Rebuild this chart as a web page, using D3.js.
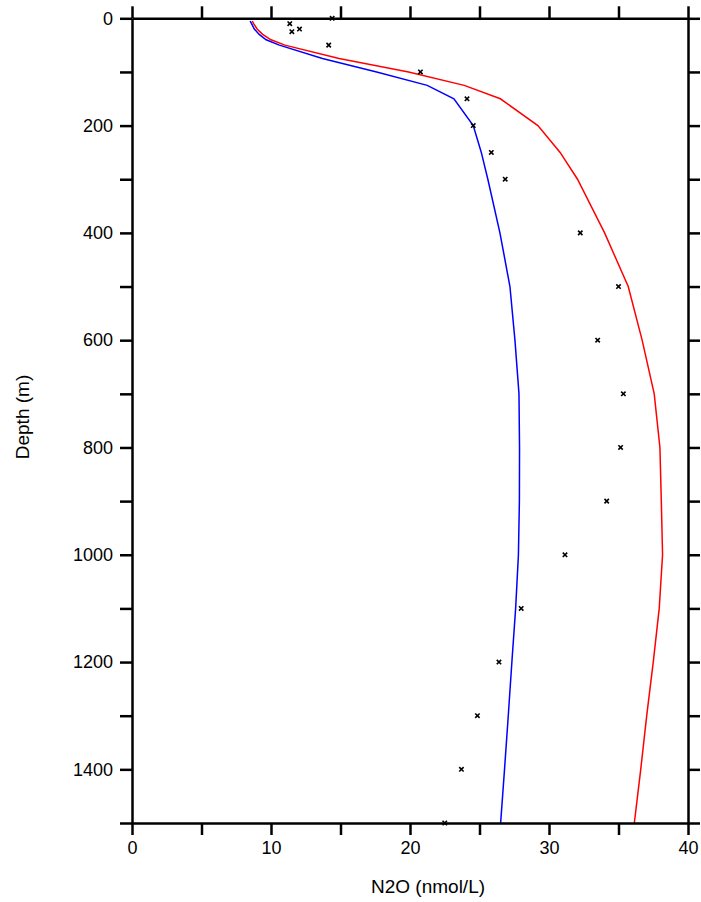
<!DOCTYPE html>
<html>
<head>
<meta charset="utf-8">
<script src="https://cdnjs.cloudflare.com/ajax/libs/d3/7.8.5/d3.min.js"></script>
<style>
  body { margin: 0; background: #fff; }
  svg text { font-family: "Liberation Sans", Arial, sans-serif; fill: #000; }
</style>
</head>
<body>
<svg id="graph" width="701" height="902"></svg>
<script>
// depth levels of the two profiles (m)
var depths = [5, 10, 20, 30, 40, 50, 75, 100, 125, 150, 200, 250, 300, 400, 500,
  600, 700, 800, 900, 1000, 1100, 1200, 1300, 1400, 1500];

// red profile
var redN2O = [8.65, 8.75, 9.0, 9.4, 10.0, 11.0, 14.9, 19.9, 23.9, 26.5, 29.2, 30.8, 32.05, 34.0, 35.7,
  36.7, 37.57, 37.98, 38.08, 38.17, 37.93, 37.5, 37.03, 36.6, 36.14];

// blue profile
var blueN2O = [8.5, 8.6, 8.8, 9.15, 9.65, 10.6, 13.7, 17.6, 21.24, 23.16, 24.55, 25.13, 25.6, 26.47, 27.19,
  27.55, 27.84, 27.88, 27.87, 27.8, 27.6, 27.33, 27.07, 26.8, 26.52];

// observations (x markers)
var obsDepth = [0, 10, 20, 25, 50, 100, 150, 200, 250, 300, 400, 500,
  600, 700, 800, 900, 1000, 1100, 1200, 1300, 1400, 1500];
var obsN2O = [14.4, 11.35, 12.05, 11.5, 14.15, 20.75, 24.1, 24.55, 25.85, 26.85, 32.25, 35.0,
  33.5, 35.35, 35.15, 34.15, 31.15, 28.0, 26.4, 24.85, 23.7, 22.5];

var xTicks = [0, 5, 10, 15, 20, 25, 30, 35, 40];
var xLabels = [0, 10, 20, 30, 40];
var yTicks = [0, 100, 200, 300, 400, 500, 600, 700, 800, 900, 1000, 1100, 1200, 1300, 1400, 1500];
var yLabels = [0, 200, 400, 600, 800, 1000, 1200, 1400];

var svg = d3.select("#graph");

var x = d3.scaleLinear().domain([0, 40]).range([132, 688]),
    y = d3.scaleLinear().domain([0, 1500]).range([18.3, 823]);

var line = d3.line()
    .x(function(d) { return x(d.v); })
    .y(function(d) { return y(d.d); });

///////////////////////////////////////////////////////////////////////////////
// profiles

var profiles = [
  { color: "#ff0000", values: redN2O },
  { color: "#0000ff", values: blueN2O }
];

profiles.forEach(function(p) {
  var pts = depths.map(function(d, i) { return { d: d, v: p.values[i] }; });
  svg.append("path")
    .datum(pts)
    .attr("fill", "none")
    .attr("stroke", p.color)
    .attr("stroke-width", 1.5)
    .attr("d", line);
});

// observation markers
var obs = obsDepth.map(function(d, i) { return { d: d, v: obsN2O[i] }; });
var s = 2.2;
svg.append("g").selectAll("path")
  .data(obs)
  .enter().append("path")
    .attr("d", function(d) {
      var cx = x(d.v), cy = y(d.d);
      return "M" + (cx - s) + "," + (cy - s) + "L" + (cx + s) + "," + (cy + s) +
             "M" + (cx - s) + "," + (cy + s) + "L" + (cx + s) + "," + (cy - s);
    })
    .attr("stroke", "#000")
    .attr("stroke-width", 1.6);

///////////////////////////////////////////////////////////////////////////////
// axes (ticks outward on all four sides)

function styleAxis(g) {
  g.select(".domain").attr("stroke", "#000").attr("stroke-width", 2.5);
  g.selectAll(".tick line").attr("stroke", "#000").attr("stroke-width", 2.5);
  g.selectAll(".tick text").style("font-size", "18px").attr("fill", "#000");
}

svg.append("g")
    .attr("transform", "translate(0," + y(1500) + ")")
    .call(d3.axisBottom(x).tickValues(xTicks).tickSize(12).tickSizeOuter(0).tickPadding(6)
      .tickFormat(function(d) { return xLabels.indexOf(d) >= 0 ? d : ""; }))
    .call(styleAxis);

svg.append("g")
    .attr("transform", "translate(0," + y(0) + ")")
    .call(d3.axisTop(x).tickValues(xTicks).tickSize(12).tickSizeOuter(0).tickFormat(""))
    .call(styleAxis);

svg.append("g")
    .attr("transform", "translate(" + x(0) + ",0)")
    .call(d3.axisLeft(y).tickValues(yTicks).tickSize(12).tickSizeOuter(0).tickPadding(7)
      .tickFormat(function(d) { return yLabels.indexOf(d) >= 0 ? d : ""; }))
    .call(styleAxis);

svg.append("g")
    .attr("transform", "translate(" + x(40) + ",0)")
    .call(d3.axisRight(y).tickValues(yTicks).tickSize(12).tickSizeOuter(0).tickFormat(""))
    .call(styleAxis);

// axis titles
svg.append("text")
    .attr("x", 371)
    .attr("y", 893)
    .attr("text-anchor", "start")
    .style("font-size", "19px")
    .text("N2O (nmol/L)");

svg.append("text")
    .attr("transform", "translate(29,417) rotate(-90)")
    .attr("text-anchor", "middle")
    .style("font-size", "19px")
    .text("Depth (m)");
</script>
</body>
</html>
